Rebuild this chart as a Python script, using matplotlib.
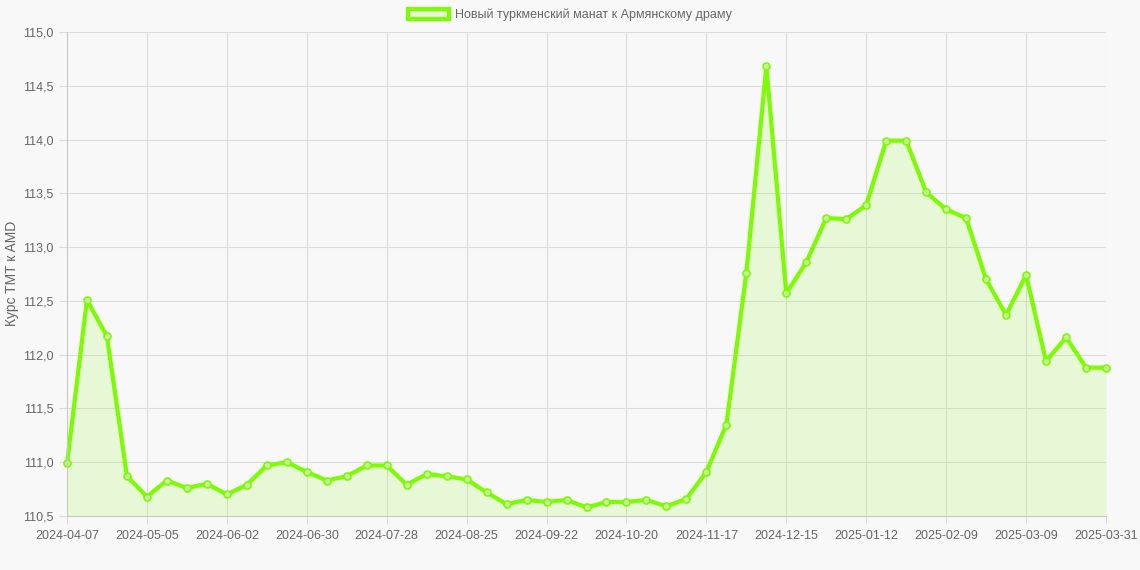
import matplotlib.pyplot as plt
import pandas as pd
from matplotlib.patches import Patch
from matplotlib.ticker import FuncFormatter

plt.rcParams["font.family"] = ["Liberation Sans", "DejaVu Sans"]

# weekly dates, last point is 2025-03-31
dates = [d.strftime("%Y-%m-%d") for d in pd.date_range("2024-04-07", periods=52, freq="7D")]
dates.append("2025-03-31")

rates = [
    110.99, 112.51, 112.17, 110.87, 110.68, 110.83, 110.76, 110.80, 110.70, 110.79,
    110.97, 111.00, 110.91, 110.83, 110.87, 110.97, 110.97, 110.79, 110.89, 110.87,
    110.84, 110.72, 110.61, 110.65, 110.63, 110.65, 110.58, 110.63, 110.63, 110.65,
    110.59, 110.66, 110.91, 111.35, 112.76, 114.68, 112.57, 112.86, 113.27, 113.26,
    113.39, 113.99, 113.99, 113.51, 113.35, 113.27, 112.70, 112.37, 112.74, 111.94,
    112.16, 111.88, 111.88,
]

label = "Новый туркменский манат к Армянскому драму"
line_color = "#7cfc00"
bg = "#f8f8f8"

fig = plt.figure(figsize=(11.4, 5.7), dpi=100, facecolor=bg)
ax = fig.add_axes([67 / 1140, 1 - 516 / 570, (1106 - 67) / 1140, (516 - 32) / 570])
ax.set_facecolor(bg)

x = list(range(len(rates)))
ax.fill_between(x, rates, 110.5, color=line_color, alpha=0.13, linewidth=0)
ax.plot(x, rates, color=line_color, linewidth=3, marker="o", markersize=5,
        markerfacecolor="#c8f59a", markeredgecolor=line_color, markeredgewidth=1.2,
        clip_on=False)

ax.set_xlim(0, len(rates) - 1)
ax.set_ylim(110.5, 115.0)
ax.set_yticks([110.5 + 0.5 * i for i in range(10)])
ax.yaxis.set_major_formatter(FuncFormatter(lambda v, p: f"{v:.1f}".replace(".", ",")))
ticks = list(range(0, len(rates), 4))
ax.set_xticks(ticks)
ax.set_xticklabels([dates[i] for i in ticks])

ax.grid(True, color="#dcdcdc", linewidth=0.8)
ax.set_axisbelow(True)
for s in ["top", "right"]:
    ax.spines[s].set_visible(False)
for s in ["left", "bottom"]:
    ax.spines[s].set_color("#c8c8c8")
    ax.spines[s].set_linewidth(0.8)
ax.tick_params(colors="#dcdcdc", labelcolor="#666666", labelsize=9, length=6, width=0.8)
ax.tick_params(axis="x", pad=4)

fig.text(12 / 1140, 1 - 273 / 570, "Курс TMT к AMD", rotation=90, color="#666666",
         fontsize=10, ha="center", va="center")

handle = Patch(facecolor="#e6f9d4", edgecolor=line_color, linewidth=3)
fig.legend([handle], [label], loc="center", bbox_to_anchor=(0.5, 1 - 15 / 570),
           frameon=False, fontsize=9, handlelength=3.3, handleheight=0.9,
           handletextpad=0.5, labelcolor="#666666")

fig.savefig("out.png", dpi=100, facecolor=bg)
